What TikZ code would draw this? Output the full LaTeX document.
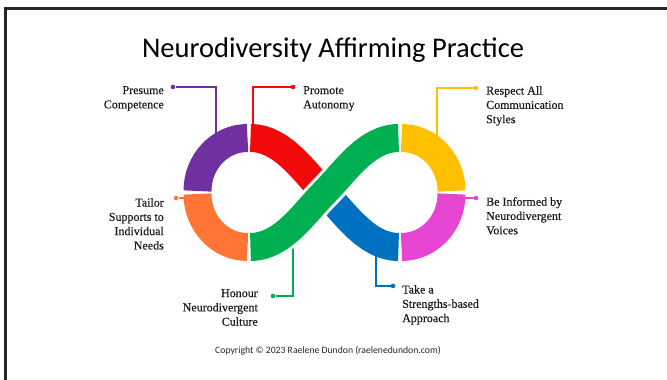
\documentclass[tikz,border=0pt]{standalone}
\usepackage{fontspec}
\setmainfont{Liberation Serif}
\newfontfamily\headfont{Carlito}
\newfontfamily\lblfont[FakeBold=0.35]{Liberation Serif}
\usetikzlibrary{positioning}
\definecolor{ndpurple}{HTML}{7030A0}
\definecolor{ndred}{HTML}{F20A0A}
\definecolor{ndorange}{HTML}{FF7535}
\definecolor{ndgreen}{HTML}{00B050}
\definecolor{ndyellow}{HTML}{FFC000}
\definecolor{ndpink}{HTML}{E545D2}
\definecolor{ndblue}{HTML}{0070C0}
\begin{document}
\begin{tikzpicture}[x=1pt,y=1pt]
\tikzset{band/.style = {line width=28pt}}
\tikzset{gapband/.style = {line width=34pt,white}}
\tikzset{lead/.style = {line width=1.3pt}}
\tikzset{dot/.style = {shape=circle,fill,inner sep=0pt,minimum size=4.6pt}}
\tikzset{lbl/.style = {font=\lblfont\fontsize{12}{14.3}\selectfont,inner sep=0pt,text=black!90}}
\useasboundingbox (0,0) rectangle (667,380);
% FRAME
\draw[line width=2.6pt,black!85] (5.3,0) |- (667,371.3);
% TITLE
\node[font=\headfont\fontsize{28.5}{32}\selectfont,anchor=base] (title) at (333,322) {Neurodiversity Affirming Practice};
% BAND POINTS
\coordinate (x) at (324.5,187.5);
\coordinate (purpleband) at (216,240);
\coordinate (redband) at (253,250);
\coordinate (yellowband) at (437,240);
\coordinate (pinkband) at (460,182);
\coordinate (orangeband) at (190,182);
\coordinate (greenband) at (293,140);
\coordinate (blueband) at (376,140);
% DOTS
\node[dot,ndpurple] (dpresume) at (173,293) {};
\node[dot,ndred] (dpromote) at (293,293) {};
\node[dot,ndyellow] (drespect) at (476,292) {};
\node[dot,ndpink] (dinformed) at (476,182) {};
\node[dot,ndorange] (dtailor) at (176,182) {};
\node[dot,ndgreen] (dhonour) at (273,84) {};
\node[dot,ndblue] (dtake) at (393,94) {};
% LABELS
\node[lbl,align=right,anchor=north east] (presume) at (164,294) {Presume\\Competence};
\node[lbl,align=left,anchor=north west] (promote) at (303,294) {Promote\\Autonomy};
\node[lbl,align=left,anchor=north west] (respect) at (486,294) {Respect All\\Communication\\Styles};
\node[lbl,align=left,anchor=north west] (informed) at (486,183) {Be Informed by\\Neurodivergent\\Voices};
\node[lbl,align=right,anchor=north east] (tailor) at (164,182) {Tailor\\Supports to\\Individual\\Needs};
\node[lbl,align=right,anchor=north east] (honour) at (258,91) {Honour\\Neurodivergent\\Culture};
\node[lbl,align=left,anchor=north west] (take) at (402,95) {Take a\\Strengths-based\\Approach};
% LEADERS
\draw[lead,ndpurple] (purpleband) |- (dpresume);
\draw[lead,ndred] (redband) |- (dpromote);
\draw[lead,ndyellow] (yellowband) |- (drespect);
\draw[lead,ndpink] (pinkband) -- (dinformed);
\draw[lead,ndorange] (orangeband) -- (dtailor);
\draw[lead,ndgreen] (greenband) |- (dhonour);
\draw[lead,ndblue] (blueband) |- (dtake);
% LOOPS
\draw[band,ndpurple] (197.5,189) arc[start angle=180,end angle=90,x radius=50,y radius=53];
\draw[band,ndorange] (197.5,186) arc[start angle=180,end angle=270,x radius=50,y radius=53];
\draw[band,ndyellow] (401.5,242) arc[start angle=90,end angle=0,x radius=50,y radius=53];
\draw[band,ndpink] (451.5,186) arc[start angle=0,end angle=-90,x radius=50,y radius=53];
% CROSSING
\draw[band,ndred] (250.5,242) .. controls (282.5,242) and (304.5,207.5) .. (x);
\draw[band,ndblue] (x) .. controls (344.5,167.5) and (366.5,133) .. (398.5,133);
\draw[gapband] (250.5,133) .. controls (282.5,133) and (304.5,167.5) .. (x)
  .. controls (344.5,207.5) and (366.5,242) .. (398.5,242);
\draw[band,ndgreen] (250.5,133) .. controls (282.5,133) and (304.5,167.5) .. (x)
  .. controls (344.5,207.5) and (366.5,242) .. (398.5,242);
% FOOTER
\node[font=\headfont\fontsize{9.7}{12}\selectfont,anchor=base,text=black!85] (copy) at (328,26) {Copyright © 2023 Raelene Dundon (raelenedundon.com)};
\end{tikzpicture}
\end{document}
